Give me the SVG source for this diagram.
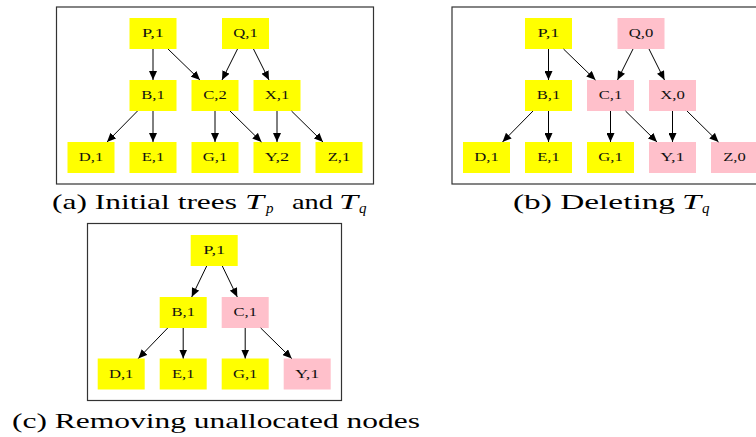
<svg xmlns="http://www.w3.org/2000/svg" width="756" height="437" viewBox="0 0 756 437">
  <style>
    .frame { fill: #ffffff; stroke: #333333; stroke-width: 1.2; }
    .box { stroke: none; }
    .alloc { fill: #ffff00; }
    .freed { fill: #ffc0cb; }
    .lbl { font-family: "Liberation Serif", "Times New Roman", serif; font-size: 12px; fill: #111111; text-anchor: middle; }
    .cap { font-family: "Liberation Serif", "Times New Roman", serif; font-size: 22px; fill: #000000; }
    .it { font-style: italic; }
    .sub { font-family: "Liberation Serif", "Times New Roman", serif; font-size: 15px; font-style: italic; fill: #000000; }
    .edge { stroke: #000000; stroke-width: 1; fill: none; marker-end: url(#arrow); }
  </style>
  <defs>
    <marker id="arrow" markerUnits="userSpaceOnUse" markerWidth="10" markerHeight="8" refX="9" refY="4" orient="auto">
      <path d="M0,0 L9,4 L0,8 Z" fill="#000000"/>
    </marker>
  </defs>

  <rect width="756" height="437" fill="#ffffff"/>

  <!-- Panel (a): initial trees -->
  <g id="panel-a">
    <rect class="frame" x="56.5" y="7" width="317" height="177"/>
    <g id="a-P"><rect class="box alloc" x="129.5" y="18" width="47" height="31"/><text class="lbl" x="153" y="37" textLength="22" lengthAdjust="spacingAndGlyphs">P,1</text></g>
    <g id="a-Q"><rect class="box alloc" x="222" y="18" width="47" height="31"/><text class="lbl" x="245.5" y="37" textLength="24.5" lengthAdjust="spacingAndGlyphs">Q,1</text></g>
    <g id="a-B"><rect class="box alloc" x="129.5" y="80" width="47" height="31"/><text class="lbl" x="153" y="99" textLength="23.5" lengthAdjust="spacingAndGlyphs">B,1</text></g>
    <g id="a-C"><rect class="box alloc" x="191.5" y="80" width="47" height="31"/><text class="lbl" x="215" y="99" textLength="23.5" lengthAdjust="spacingAndGlyphs">C,2</text></g>
    <g id="a-X"><rect class="box alloc" x="253.5" y="80" width="47" height="31"/><text class="lbl" x="277" y="99" textLength="24.5" lengthAdjust="spacingAndGlyphs">X,1</text></g>
    <g id="a-D"><rect class="box alloc" x="67.5" y="142" width="47" height="31"/><text class="lbl" x="91" y="161" textLength="24.5" lengthAdjust="spacingAndGlyphs">D,1</text></g>
    <g id="a-E"><rect class="box alloc" x="129.5" y="142" width="47" height="31"/><text class="lbl" x="153" y="161" textLength="22.5" lengthAdjust="spacingAndGlyphs">E,1</text></g>
    <g id="a-G"><rect class="box alloc" x="191.5" y="142" width="47" height="31"/><text class="lbl" x="215" y="161" textLength="24.5" lengthAdjust="spacingAndGlyphs">G,1</text></g>
    <g id="a-Y"><rect class="box alloc" x="253.5" y="142" width="47" height="31"/><text class="lbl" x="277" y="161" textLength="24.5" lengthAdjust="spacingAndGlyphs">Y,2</text></g>
    <g id="a-Z"><rect class="box alloc" x="315.5" y="142" width="47" height="31"/><text class="lbl" x="339" y="161" textLength="22.5" lengthAdjust="spacingAndGlyphs">Z,1</text></g>
    <g id="a-edges">
      <line class="edge" x1="153" y1="49" x2="153" y2="80"/>
      <line class="edge" x1="168" y1="49" x2="200" y2="80"/>
      <line class="edge" x1="237.5" y1="49" x2="222" y2="80"/>
      <line class="edge" x1="253.5" y1="49" x2="269" y2="80"/>
      <line class="edge" x1="137.5" y1="111" x2="107" y2="142"/>
      <line class="edge" x1="153" y1="111" x2="153" y2="142"/>
      <line class="edge" x1="215" y1="111" x2="215" y2="142"/>
      <line class="edge" x1="230" y1="111" x2="261.5" y2="142"/>
      <line class="edge" x1="277" y1="111" x2="277" y2="142"/>
      <line class="edge" x1="291.5" y1="111" x2="323" y2="142"/>
    </g>
    <text class="cap" x="52" y="209" textLength="185" lengthAdjust="spacingAndGlyphs">(a) Initial trees</text>
    <text class="cap it" x="245" y="209" textLength="19" lengthAdjust="spacingAndGlyphs">T</text>
    <text class="sub" x="266" y="213">p</text>
    <text class="cap" x="292" y="209" textLength="41" lengthAdjust="spacingAndGlyphs">and</text>
    <text class="cap it" x="339" y="209" textLength="19" lengthAdjust="spacingAndGlyphs">T</text>
    <text class="sub" x="359" y="213">q</text>
  </g>

  <!-- Panel (b): after deleting Tq -->
  <g id="panel-b" transform="translate(395.5 0)">
    <rect class="frame" x="56.5" y="7" width="317" height="177"/>
    <g id="b-P"><rect class="box alloc" x="129.5" y="18" width="47" height="31"/><text class="lbl" x="153" y="37" textLength="22" lengthAdjust="spacingAndGlyphs">P,1</text></g>
    <g id="b-Q"><rect class="box freed" x="222" y="18" width="47" height="31"/><text class="lbl" x="245.5" y="37" textLength="24.5" lengthAdjust="spacingAndGlyphs">Q,0</text></g>
    <g id="b-B"><rect class="box alloc" x="129.5" y="80" width="47" height="31"/><text class="lbl" x="153" y="99" textLength="23.5" lengthAdjust="spacingAndGlyphs">B,1</text></g>
    <g id="b-C"><rect class="box freed" x="191.5" y="80" width="47" height="31"/><text class="lbl" x="215" y="99" textLength="23.5" lengthAdjust="spacingAndGlyphs">C,1</text></g>
    <g id="b-X"><rect class="box freed" x="253.5" y="80" width="47" height="31"/><text class="lbl" x="277" y="99" textLength="24.5" lengthAdjust="spacingAndGlyphs">X,0</text></g>
    <g id="b-D"><rect class="box alloc" x="67.5" y="142" width="47" height="31"/><text class="lbl" x="91" y="161" textLength="24.5" lengthAdjust="spacingAndGlyphs">D,1</text></g>
    <g id="b-E"><rect class="box alloc" x="129.5" y="142" width="47" height="31"/><text class="lbl" x="153" y="161" textLength="22.5" lengthAdjust="spacingAndGlyphs">E,1</text></g>
    <g id="b-G"><rect class="box alloc" x="191.5" y="142" width="47" height="31"/><text class="lbl" x="215" y="161" textLength="24.5" lengthAdjust="spacingAndGlyphs">G,1</text></g>
    <g id="b-Y"><rect class="box freed" x="253.5" y="142" width="47" height="31"/><text class="lbl" x="277" y="161" textLength="24.5" lengthAdjust="spacingAndGlyphs">Y,1</text></g>
    <g id="b-Z"><rect class="box freed" x="315.5" y="142" width="47" height="31"/><text class="lbl" x="339" y="161" textLength="22.5" lengthAdjust="spacingAndGlyphs">Z,0</text></g>
    <g id="b-edges">
      <line class="edge" x1="153" y1="49" x2="153" y2="80"/>
      <line class="edge" x1="168" y1="49" x2="200" y2="80"/>
      <line class="edge" x1="237.5" y1="49" x2="222" y2="80"/>
      <line class="edge" x1="253.5" y1="49" x2="269" y2="80"/>
      <line class="edge" x1="137.5" y1="111" x2="107" y2="142"/>
      <line class="edge" x1="153" y1="111" x2="153" y2="142"/>
      <line class="edge" x1="215" y1="111" x2="215" y2="142"/>
      <line class="edge" x1="230" y1="111" x2="261.5" y2="142"/>
      <line class="edge" x1="277" y1="111" x2="277" y2="142"/>
      <line class="edge" x1="291.5" y1="111" x2="323" y2="142"/>
    </g>
  </g>
  <text class="cap" x="513" y="209" textLength="162" lengthAdjust="spacingAndGlyphs">(b) Deleting</text>
  <text class="cap it" x="682" y="209" textLength="19" lengthAdjust="spacingAndGlyphs">T</text>
  <text class="sub" x="702" y="213">q</text>

  <!-- Panel (c): unallocated nodes removed -->
  <g id="panel-c">
    <rect class="frame" x="87.5" y="223.5" width="254" height="177"/>
    <g id="c-P"><rect class="box alloc" x="190.7" y="235" width="47" height="31"/><text class="lbl" x="214.2" y="254" textLength="22" lengthAdjust="spacingAndGlyphs">P,1</text></g>
    <g id="c-B"><rect class="box alloc" x="159.7" y="297" width="47" height="31"/><text class="lbl" x="183.2" y="316" textLength="23.5" lengthAdjust="spacingAndGlyphs">B,1</text></g>
    <g id="c-C"><rect class="box freed" x="221.7" y="297" width="47" height="31"/><text class="lbl" x="245.2" y="316" textLength="23.5" lengthAdjust="spacingAndGlyphs">C,1</text></g>
    <g id="c-D"><rect class="box alloc" x="97.7" y="358.5" width="47" height="31"/><text class="lbl" x="121.2" y="377.5" textLength="24.5" lengthAdjust="spacingAndGlyphs">D,1</text></g>
    <g id="c-E"><rect class="box alloc" x="159.7" y="358.5" width="47" height="31"/><text class="lbl" x="183.2" y="377.5" textLength="22.5" lengthAdjust="spacingAndGlyphs">E,1</text></g>
    <g id="c-G"><rect class="box alloc" x="221.7" y="358.5" width="47" height="31"/><text class="lbl" x="245.2" y="377.5" textLength="24.5" lengthAdjust="spacingAndGlyphs">G,1</text></g>
    <g id="c-Y"><rect class="box freed" x="283.7" y="358.5" width="47" height="31"/><text class="lbl" x="307.2" y="377.5" textLength="24.5" lengthAdjust="spacingAndGlyphs">Y,1</text></g>
    <g id="c-edges">
      <line class="edge" x1="206.7" y1="266" x2="191.7" y2="297"/>
      <line class="edge" x1="222.3" y1="266" x2="237.3" y2="297"/>
      <line class="edge" x1="167.7" y1="328" x2="138.3" y2="358.5"/>
      <line class="edge" x1="183.2" y1="328" x2="183.2" y2="358.5"/>
      <line class="edge" x1="245.2" y1="328" x2="245.2" y2="358.5"/>
      <line class="edge" x1="260.7" y1="328" x2="291.7" y2="358.5"/>
    </g>
  </g>
  <text class="cap" x="12" y="428" textLength="408" lengthAdjust="spacingAndGlyphs">(c) Removing unallocated nodes</text>
</svg>
